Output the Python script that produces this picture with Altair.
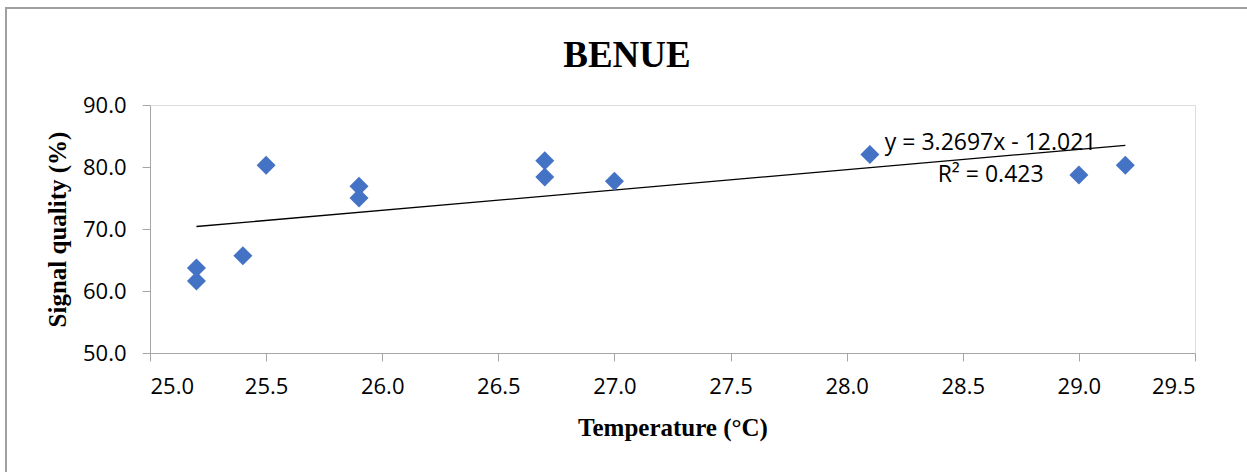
import altair as alt
import pandas as pd

temperature = [25.2, 25.2, 25.4, 25.5, 25.9, 25.9, 26.7, 26.7, 27.0, 28.1, 29.0, 29.2]
signal_quality = [63.7, 61.6, 65.7, 80.3, 76.9, 75.0, 81.0, 78.4, 77.7, 82.0, 78.7, 80.3]

trend_x = [25.2, 29.2]
trend_y = [70.4, 83.5]

eq_labels = ["y = 3.2697x - 12.021", "R² = 0.423"]
eq_x = [28.62, 28.62]
eq_y = [83.9, 78.7]

x_ticks = [25.0, 25.5, 26.0, 26.5, 27.0, 27.5, 28.0, 28.5, 29.0, 29.5]
y_ticks = [50.0, 60.0, 70.0, 80.0, 90.0]

title_text = ["BENUE"]

pts = pd.DataFrame({"t": temperature, "s": signal_quality})
trend = pd.DataFrame({"t": trend_x, "s": trend_y})
eq = pd.DataFrame({"t": eq_x, "s": eq_y, "label": eq_labels})

xscale = alt.Scale(domain=[25.0, 29.5], nice=False, zero=False)
yscale = alt.Scale(domain=[50.0, 90.0], nice=False, zero=False)

xaxis = alt.Axis(
    values=x_ticks, format=".1f", title="Temperature (°C)", grid=False,
    domainColor="#A6A6A6", tickColor="#A6A6A6", tickSize=8, labelPadding=15,
    labelFont="Open Sans", labelFontSize=22, labelColor="#000000",
    titleFont="Liberation Serif", titleFontSize=25, titleFontWeight="bold",
    titleColor="#000000", titlePadding=18,
)
yaxis = alt.Axis(
    values=y_ticks, format=".1f", title="Signal quality (%)", grid=False,
    domainColor="#A6A6A6", tickColor="#A6A6A6", tickSize=8, labelPadding=16,
    labelFont="Open Sans", labelFontSize=22, labelColor="#000000",
    titleFont="Liberation Serif", titleFontSize=25, titleFontWeight="bold",
    titleColor="#000000", titlePadding=12,
)

border = alt.Chart(pd.DataFrame({"a": [0]})).mark_rect(
    fill=None, stroke="#A0A0A0", strokeWidth=2
).encode(
    x=alt.value(-144), x2=alt.value(1100),
    y=alt.value(-97), y2=alt.value(400),
)

title = alt.Chart(pd.DataFrame({"label": title_text})).mark_text(
    font="Liberation Serif", fontSize=37, fontWeight="bold", color="#000000",
    align="center", baseline="alphabetic",
).encode(
    x=alt.value(477), y=alt.value(-38), text="label:N",
)

points = alt.Chart(pts).mark_point(
    shape="diamond", filled=True, size=360, color="#4472C4", opacity=1
).encode(
    x=alt.X("t:Q", scale=xscale, axis=xaxis),
    y=alt.Y("s:Q", scale=yscale, axis=yaxis),
)

line = alt.Chart(trend).mark_line(color="#000000", strokeWidth=1.3).encode(
    x=alt.X("t:Q", scale=xscale),
    y=alt.Y("s:Q", scale=yscale),
)

text = alt.Chart(eq).mark_text(
    font="Open Sans", fontSize=23, color="#000000", align="center", baseline="middle"
).encode(
    x=alt.X("t:Q", scale=xscale),
    y=alt.Y("s:Q", scale=yscale),
    text="label:N",
)

chart = alt.layer(border, title, line, points, text).properties(
    width=1045, height=248,
    padding={"left": 150, "top": 105, "right": 52, "bottom": 119},
    autosize=alt.AutoSizeParams(type="none"),
).configure_view(stroke=None).configure(background="#FFFFFF")

chart.save("out.html", embed_options={"renderer": "svg", "actions": False})
